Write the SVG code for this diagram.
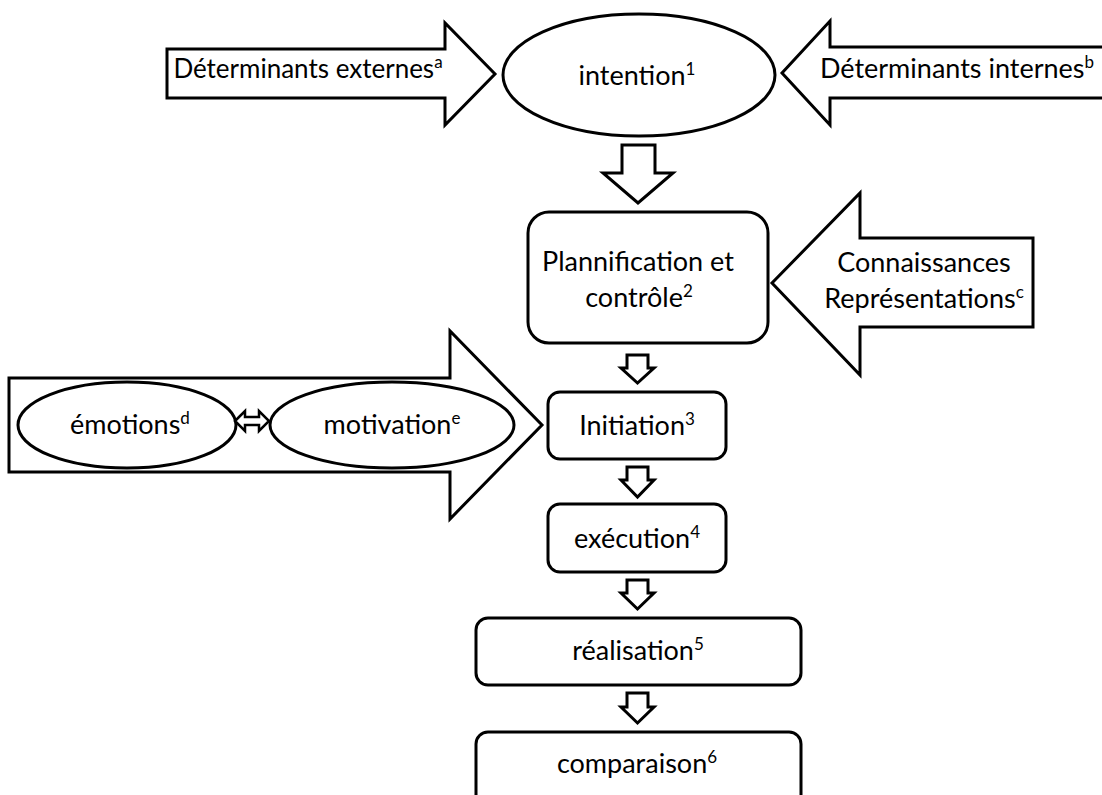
<svg xmlns="http://www.w3.org/2000/svg" width="1102" height="795" viewBox="0 0 1102 795">
<style>
.s{fill:#fff;stroke:#000;stroke-width:3;stroke-linejoin:miter}
.t{font-family:Lato,"Open Sans",sans-serif;font-size:27px;fill:#000;text-anchor:middle}
.sup{font-size:17px}
</style>
<rect width="1102" height="795" fill="#fff"/>
<g id="connectors">
<polygon class="s" points="622,145 655,145 655,173 673,173 638,203 603,173 622,173"/>
<polygon class="s" points="627,355 648,355 648,368 654,368 637.5,383 621,368 627,368"/>
<polygon class="s" points="627,467 648,467 648,480 654,480 637.5,497 621,480 627,480"/>
<polygon class="s" points="627,580 648,580 648,593 654,593 637.5,609 621,593 627,593"/>
<polygon class="s" points="627,693 648,693 648,707 654,707 637.5,723 621,707 627,707"/>
</g>
<g id="det-externes">
<polygon class="s" points="167,49 445,49 445,23 495,74 445,125 445,98 167,98"/>
<text class="t" x="308" y="78" style="font-size:26px">Déterminants externes<tspan class="sup" dy="-10">a</tspan></text>
</g>
<g id="intention">
<ellipse class="s" cx="639" cy="75" rx="136" ry="61"/>
<text class="t" x="637" y="85">intention<tspan class="sup" dy="-10">1</tspan></text>
</g>
<g id="det-internes">
<polygon class="s" points="1110,47 830,47 830,21 782,73 830,125 830,98 1110,98"/>
<text class="t" x="957" y="78">Déterminants internes<tspan class="sup" dy="-10">b</tspan></text>
</g>
<g id="planification">
<rect class="s" x="528" y="212" width="240" height="131" rx="21"/>
<text class="t" x="638" y="271">Plannification et</text>
<text class="t" x="639" y="307">contrôle<tspan class="sup" dy="-10">2</tspan></text>
</g>
<g id="connaissances">
<polygon class="s" points="1033,238 860,238 860,193 772,283 860,375 860,327 1033,327"/>
<text class="t" x="924" y="272">Connaissances</text>
<text class="t" x="924" y="308">Représentations<tspan class="sup" dy="-10">c</tspan></text>
</g>
<g id="affect">
<polygon class="s" points="9,378 450,378 450,331 542,425 450,519 450,472 9,472"/>
<g id="emotions">
<ellipse class="s" cx="127" cy="425" rx="109" ry="43"/>
<text class="t" x="130" y="434">émotions<tspan class="sup" dy="-10">d</tspan></text>
</g>
<g id="motivation">
<ellipse class="s" cx="392" cy="425" rx="122" ry="43"/>
<text class="t" x="392" y="434">motivation<tspan class="sup" dy="-10">e</tspan></text>
</g>
<polygon class="s" style="stroke-width:2.5" points="235,421 245,411 245,417 259,417 259,411 269,421 259,431 259,425 245,425 245,431"/>
</g>
<g id="initiation">
<rect class="s" x="548" y="392" width="178" height="67" rx="12"/>
<text class="t" x="637" y="435">Initiation<tspan class="sup" dy="-10">3</tspan></text>
</g>
<g id="execution">
<rect class="s" x="548" y="504" width="178" height="68" rx="12"/>
<text class="t" x="637" y="548">exécution<tspan class="sup" dy="-10">4</tspan></text>
</g>
<g id="realisation">
<rect class="s" x="476" y="618" width="325" height="67" rx="12"/>
<text class="t" x="638" y="660">réalisation<tspan class="sup" dy="-10">5</tspan></text>
</g>
<g id="comparaison">
<rect class="s" x="476" y="732" width="325" height="75" rx="12"/>
<text class="t" x="637" y="773">comparaison<tspan class="sup" dy="-10">6</tspan></text>
</g>
</svg>
